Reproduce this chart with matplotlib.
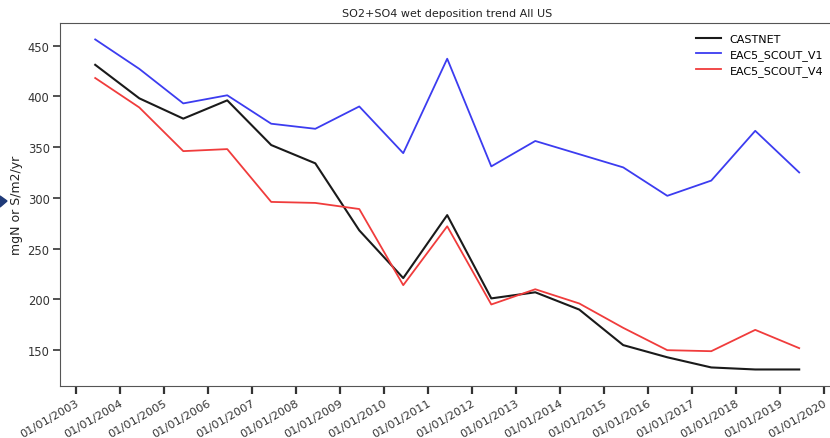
import matplotlib
matplotlib.use('Agg')
import matplotlib.pyplot as plt
import matplotlib.dates as mdates
from matplotlib.patches import Polygon
import datetime as dt

# anni dei dati (punti a meta' anno circa)
years = list(range(2003, 2020))
dates = [dt.datetime(y, 6, 10) for y in years]

castnet = [431, 398, 378, 396, 352, 334, 268, 221, 283, 201, 207, 190, 155, 143, 133, 131, 131]
scout_v1 = [456, 427, 393, 401, 373, 368, 390, 344, 437, 331, 356, 343, 330, 302, 317, 366, 325]
scout_v4 = [418, 389, 346, 348, 296, 295, 289, 214, 272, 195, 210, 196, 172, 150, 149, 170, 152]

plt.rcParams['font.family'] = 'DejaVu Sans'
fig = plt.figure(figsize=(8.3, 4.39), dpi=100)
ax = fig.add_axes([0.0723, 0.1185, 0.933, 0.827])

ax.plot(dates, castnet, color='#1a1a1a', lw=1.5, label='CASTNET')
ax.plot(dates, scout_v1, color='#3c3cf0', lw=1.3, label='EAC5_SCOUT_V1')
ax.plot(dates, scout_v4, color='#f03c3c', lw=1.3, label='EAC5_SCOUT_V4')

ax.xaxis.set_major_locator(mdates.YearLocator())
ax.xaxis.set_major_formatter(mdates.DateFormatter('%m/%d/%Y'))
ax.set_yticks([150, 200, 250, 300, 350, 400, 450])
ax.tick_params(axis='y', labelsize=8.3, colors='#333333', length=5, width=1.2, pad=2.5)
ax.tick_params(axis='x', labelsize=8.2, colors='#333333', length=6, width=1.6, pad=2)
plt.setp(ax.get_xticklabels(), rotation=30, ha='right', rotation_mode='anchor')
for s in ax.spines.values():
    s.set_color('#555555')

ax.set_ylabel('mgN or S/m2/yr', fontsize=9, color='#222222', labelpad=3)
ax.set_title('SO2+SO4 wet deposition trend All US', fontsize=8, color='#222222', pad=5)
ax.legend(loc='upper right', frameon=False, fontsize=8, handlelength=2.2,
          labelspacing=0.45, borderaxespad=0.6)

# freccia blu a sinistra (resto dello screenshot)
fig.patches.append(Polygon([[0, 1 - 197 / 439], [7 / 830, 1 - 202 / 439], [0, 1 - 208 / 439]],
                           closed=True, transform=fig.transFigure, color='#1f3a78'))

fig.savefig('out.png', dpi=100)
